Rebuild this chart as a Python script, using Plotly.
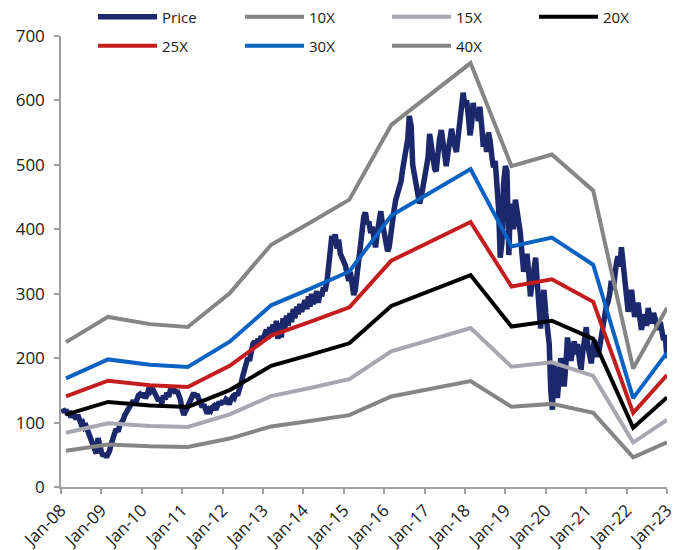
import pandas as pd
import plotly.graph_objects as go

# Earnings-per-share knots used to build the P/E band lines
eps_dates = ["2008-02-15", "2009-03-01", "2010-03-15", "2011-02-20", "2012-03-05",
             "2013-03-15", "2014-03-01", "2015-02-20", "2016-03-05", "2017-03-01",
             "2018-02-20", "2019-02-25", "2020-02-25", "2021-03-05", "2022-03-01",
             "2023-01-01"]
eps = [5.62, 6.6, 6.32, 6.21, 7.52, 9.4, 10.25, 11.15, 14.05, 15.25,
       16.45, 12.45, 12.9, 11.5, 4.6, 6.95]

multiples = [10, 15, 20, 25, 30, 40]
band_names = ["10X", "15X", "20X", "25X", "30X", "40X"]
band_colors = ["#858585", "#a7a7b1", "#000000", "#c41d1d", "#0a62c2", "#858585"]

# Share price, twice a month (1st and 15th), Jan 2008 - Jan 2023
price_2008 = [122, 116, 120, 112, 118, 108, 114, 110, 106, 112, 104, 98,
              100, 92, 94, 86, 82, 74, 66, 58, 52, 76, 62, 54]
price_2009 = [48, 52, 46, 50, 56, 68, 78, 84, 90, 86, 96, 100,
              104, 112, 116, 120, 126, 130, 134, 128, 138, 142, 144, 140]
price_2010 = [146, 138, 142, 150, 148, 154, 150, 144, 140, 134, 138, 130,
              142, 136, 146, 140, 150, 156, 152, 146, 150, 144, 136, 120]
price_2011 = [112, 118, 124, 130, 136, 142, 146, 140, 144, 136, 130, 124,
              128, 120, 114, 120, 118, 124, 126, 120, 128, 132, 128, 134]
price_2012 = [130, 136, 134, 128, 136, 140, 138, 146, 142, 150, 160, 172,
              180, 192, 200, 196, 210, 222, 226, 218, 230, 224, 234, 228]
price_2013 = [236, 244, 230, 248, 240, 252, 236, 258, 230, 254, 232, 262,
              244, 266, 250, 270, 256, 276, 262, 280, 268, 284, 272, 288]
price_2014 = [290, 276, 296, 280, 300, 284, 294, 304, 286, 302, 296, 310,
              304, 318, 340, 372, 390, 382, 392, 370, 384, 362, 356, 348]
price_2015 = [344, 330, 320, 334, 312, 298, 306, 330, 356, 376, 398, 420,
              426, 408, 412, 394, 404, 380, 372, 396, 418, 428, 410, 392]
price_2016 = [380, 366, 372, 396, 420, 432, 446, 456, 466, 474, 492, 508,
              520, 540, 576, 560, 500, 486, 470, 454, 440, 450, 466, 480]
price_2017 = [490, 512, 548, 530, 510, 494, 490, 520, 540, 554, 536, 510,
              498, 520, 544, 556, 540, 526, 520, 546, 570, 596, 612, 590]
price_2018 = [600, 574, 546, 562, 596, 578, 586, 568, 590, 560, 528, 546,
              520, 550, 538, 512, 496, 506, 470, 430, 356, 380, 470, 498]
price_2019 = [490, 360, 440, 420, 400, 446, 432, 410, 396, 360, 334, 350,
              362, 330, 296, 318, 340, 356, 320, 290, 246, 280, 306, 270]
price_2020 = [250, 222, 150, 120, 190, 150, 138, 170, 200, 180, 156, 190,
              232, 210, 196, 214, 226, 206, 222, 196, 182, 210, 232, 248]
price_2021 = [220, 196, 192, 210, 228, 214, 202, 216, 228, 246, 264, 280,
              286, 300, 320, 306, 330, 348, 358, 342, 372, 350, 320, 300]
price_2022 = [272, 290, 306, 282, 264, 276, 286, 262, 244, 258, 268, 250,
              278, 262, 254, 270, 262, 248, 244, 256, 240, 228, 236, 200]

price_values = (price_2008 + price_2009 + price_2010 + price_2011 + price_2012
                + price_2013 + price_2014 + price_2015 + price_2016 + price_2017
                + price_2018 + price_2019 + price_2020 + price_2021 + price_2022)
price_dates = pd.date_range("2008-01-15", periods=len(price_values), freq="SMS")

FONT = "Open Sans"
TEXT = "#1a1a1a"

fig = go.Figure()

fig.add_trace(go.Scatter(
    x=price_dates, y=price_values, name="Price", mode="lines",
    line=dict(color="#1b286c", width=5.5), legend="legend",
))

for m, name, color in zip(multiples, band_names, band_colors):
    fig.add_trace(go.Scatter(
        x=eps_dates, y=[m * e for e in eps], name=name, mode="lines",
        line=dict(color=color, width=4),
        legend="legend" if m in (10, 15, 20) else "legend2",
    ))

legend_common = dict(
    orientation="h", xref="container", yref="container",
    xanchor="left", yanchor="middle",
    entrywidth=73, entrywidthmode="pixels", itemwidth=59,
    font=dict(family=FONT, size=15, color=TEXT),
    bgcolor="rgba(0,0,0,0)", borderwidth=0, traceorder="normal",
)

axis_common = dict(
    showgrid=False, zeroline=False,
    showline=True, linecolor="#a0a0a0", linewidth=1.5,
    ticks="outside", ticklen=5, tickcolor="#a0a0a0", tickwidth=1.5,
    tickfont=dict(family=FONT, size=17, color=TEXT),
)

fig.update_layout(
    width=690, height=550,
    margin=dict(l=61, r=23, t=36, b=63, autoexpand=False),
    paper_bgcolor="white", plot_bgcolor="white",
    font=dict(family=FONT, size=15, color=TEXT),
    showlegend=True,
    legend=dict(x=93 / 690, y=1 - 17 / 550, **legend_common),
    legend2=dict(x=93 / 690, y=1 - 46 / 550, **legend_common),
    hovermode=False,
    xaxis=dict(
        type="date", range=["2008-01-01", "2023-01-01"],
        tick0="2008-01-01", dtick="M12", tickformat="%b-%y", tickangle=-45,
        **axis_common,
    ),
    yaxis=dict(
        range=[0, 700], dtick=100, tick0=0, ticklabelstandoff=6,
        **axis_common,
    ),
)

fig.write_html("out.html")
